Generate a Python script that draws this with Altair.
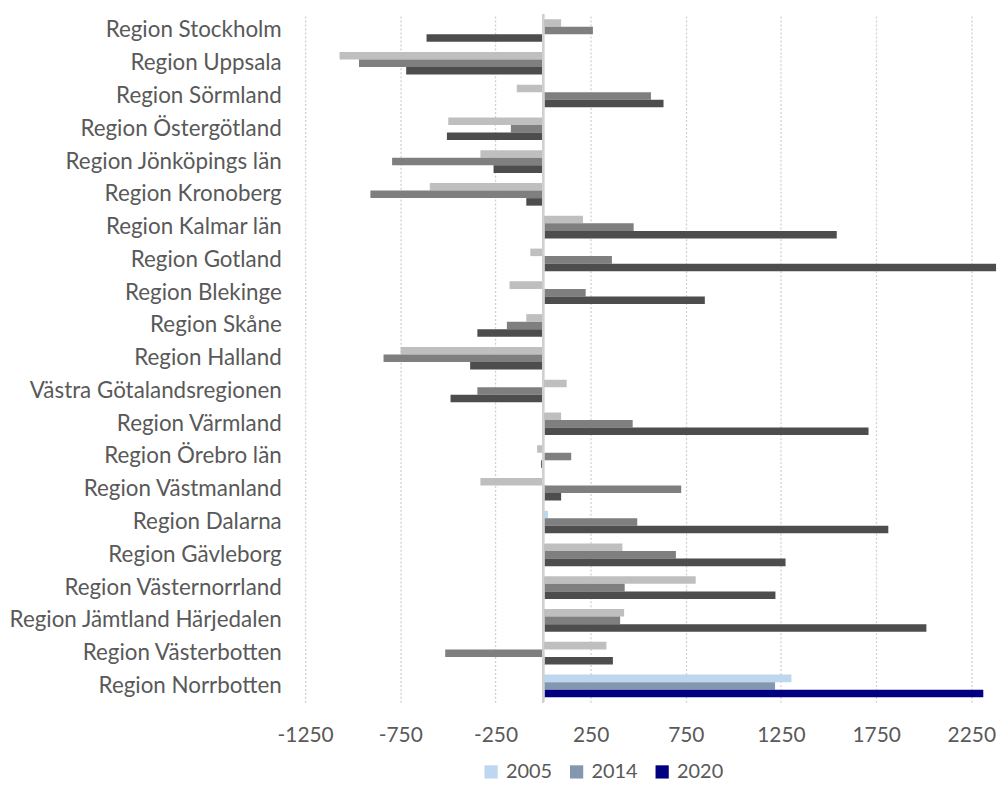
import altair as alt
import pandas as pd

regions = ["Region Stockholm", "Region Uppsala", "Region Sörmland", "Region Östergötland",
           "Region Jönköpings län", "Region Kronoberg", "Region Kalmar län", "Region Gotland",
           "Region Blekinge", "Region Skåne", "Region Halland", "Västra Götalandsregionen",
           "Region Värmland", "Region Örebro län", "Region Västmanland", "Region Dalarna",
           "Region Gävleborg", "Region Västernorrland", "Region Jämtland Härjedalen",
           "Region Västerbotten", "Region Norrbotten"]

series = ["2005", "2014", "2020"]

v2005 = [95, -1069, -138, -498, -329, -595, 210, -67, -176, -88, -748, 124, 95, -31, -329,
         26, 417, 802, 426, 333, 1305]
v2014 = [262, -967, 567, -169, -793, -907, 476, 362, 224, -190, -838, -345, 471, 148, 726,
         495, 698, 429, 405, -514, 1219]
v2020 = [-612, -719, 633, -505, -260, -88, 1543, 2380, 850, -345, -383, -486, 1710, -10, 95,
         1814, 1274, 1221, 2014, 367, 2313]

tick_values = [-1250, -750, -250, 250, 750, 1250, 1750, 2250]

gray_colors = {"2005": "#bfbfbf", "2014": "#7f7f7f", "2020": "#4d4d4d"}
blue_colors = {"2005": "#bdd7ee", "2014": "#8497b0", "2020": "#000080"}

rows = []
for i, r in enumerate(regions):
    for s, vals in zip(series, [v2005, v2014, v2020]):
        highlight = (r == "Region Norrbotten") or (r == "Region Dalarna" and s == "2005")
        rows.append({"region": r, "series": s, "value": vals[i],
                     "hex": blue_colors[s] if highlight else gray_colors[s]})
df = pd.DataFrame(rows)
legend_df = pd.DataFrame({"region": ["Region Norrbotten"] * 3, "series": series})

FONT = "Lato"
TXT = "#595959"

y_enc = alt.Y("region:N", sort=regions,
              scale=alt.Scale(paddingInner=0.31, paddingOuter=0.155),
              axis=alt.Axis(title=None, ticks=False, domain=False, labelPadding=24,
                            labelFont=FONT, labelFontSize=22.5, labelColor=TXT,
                            labelLimit=400))
yoff = alt.YOffset("series:N", sort=series, scale=alt.Scale(paddingInner=0, paddingOuter=0))
x_scale = alt.Scale(domain=[-1250, 2385], nice=False, zero=False)

bars = alt.Chart(df).mark_bar().encode(
    y=y_enc,
    yOffset=yoff,
    x=alt.X("value:Q", scale=x_scale,
            axis=alt.Axis(title=None, values=tick_values, grid=True, gridColor="#d0d0d0",
                          gridDash=[2, 2], gridWidth=1.3, domain=False, ticks=False,
                          labelPadding=22, labelFont=FONT, labelFontSize=21,
                          labelColor=TXT, labelFlush=False,
                          labelExpr="'' + datum.value")),
    color=alt.Color("hex:N", scale=None),
)

legend_layer = alt.Chart(legend_df).mark_bar().encode(
    y=alt.Y("region:N", sort=regions),
    yOffset=alt.YOffset("series:N", sort=series),
    x=alt.datum(0),
    x2=alt.datum(0),
    color=alt.Color("series:N",
                    scale=alt.Scale(domain=series, range=[blue_colors[s] for s in series]),
                    legend=alt.Legend(title=None, orient="none", direction="horizontal",
                                      legendX=177, legendY=752, symbolType="square",
                                      symbolSize=177, symbolStrokeWidth=0,
                                      labelFont=FONT, labelFontSize=20, labelColor=TXT,
                                      labelOffset=5, columnPadding=14, padding=0)),
)

zero_rule = alt.Chart(df).mark_rule(color="#d0d0d0", strokeWidth=2).encode(x=alt.datum(0))

chart = alt.layer(bars, legend_layer, zero_rule).resolve_scale(color="independent").properties(
    width=695.7, height=692,
    autosize=alt.AutoSizeParams(type="none"),
    padding={"left": 298.75, "top": 4, "right": 0, "bottom": 80},
).configure_view(stroke=None)

chart.save("out.html", embed_options={"renderer": "svg", "actions": False})
